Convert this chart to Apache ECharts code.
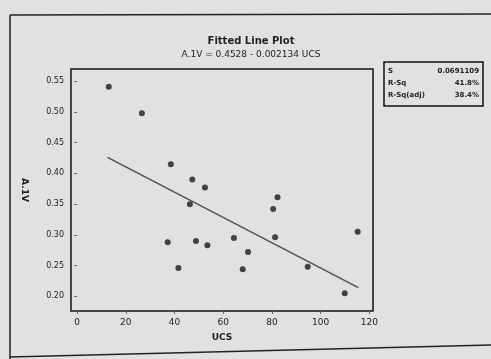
<!DOCTYPE html>
<html>
<head>
<meta charset="utf-8">
<script src="https://cdn.jsdelivr.net/npm/echarts@6/dist/echarts.min.js"></script>
<style>
  html, body { margin: 0; padding: 0; background: #e1e2e0; }
  #chart { width: 491px; height: 359px; }
</style>
</head>
<body>
<div id="chart"></div>
<script>
// measured points (UCS vs A.1V)
var ucs = [13, 26.6, 38.5, 47.3, 52.5, 46.3, 80.5, 82.3, 81.3, 115.2, 64.4, 37.2, 48.8, 53.5, 70.2, 41.6, 68, 94.7, 109.9];
var aiv = [0.541, 0.498, 0.415, 0.390, 0.377, 0.350, 0.342, 0.361, 0.296, 0.305, 0.295, 0.288, 0.290, 0.283, 0.272, 0.246, 0.244, 0.248, 0.205];
// fitted line end points
var fitX = [12.5, 115.5];
var fitY = [0.426, 0.214];
var xTicks = [0, 20, 40, 60, 80, 100, 120];
var yTicks = [0.20, 0.25, 0.30, 0.35, 0.40, 0.45, 0.50, 0.55];
var statNames = ['S', 'R-Sq', 'R-Sq(adj)'];
var statValues = ['0.0691109', '41.8%', '38.4%'];

var chart = echarts.init(document.getElementById('chart'));

var points = ucs.map(function (x, i) { return [x, aiv[i]]; });
var fitLine = fitX.map(function (x, i) { return [x, fitY[i]]; });

var statGraphics = [{
  type: 'rect',
  shape: { x: 384, y: 62, width: 99, height: 44 },
  style: { fill: 'none', stroke: '#111', lineWidth: 1.5 }
}];
statNames.forEach(function (n, i) {
  statGraphics.push({
    type: 'text', x: 388, y: 68 + i * 12,
    style: { text: n, font: 'bold 7px "DejaVu Sans"', fill: '#222' }
  });
  statGraphics.push({
    type: 'text', x: 479, y: 68 + i * 12,
    style: { text: statValues[i], font: 'bold 7px "DejaVu Sans"', fill: '#222', align: 'right' }
  });
});

var option = {
  backgroundColor: '#e1e2e0',
  animation: false,
  title: {
    text: 'Fitted Line Plot',
    subtext: 'A.1V = 0.4528 - 0.002134 UCS',
    left: 246,
    top: 31,
    textAlign: 'center',
    itemGap: 4,
    textStyle: { fontFamily: 'DejaVu Sans', fontSize: 10, fontWeight: 'bold', color: '#222' },
    subtextStyle: { fontFamily: 'DejaVu Sans', fontSize: 9, color: '#222' }
  },
  grid: {
    left: 71, right: 118, top: 69, bottom: 48,
    show: true, borderColor: '#111', borderWidth: 1.5, backgroundColor: 'transparent'
  },
  xAxis: {
    type: 'value',
    min: -2.5, max: 121.5,
    name: 'UCS',
    nameLocation: 'middle',
    nameGap: 22,
    nameTextStyle: { fontFamily: 'DejaVu Sans', fontSize: 9, fontWeight: 'bold', color: '#222' },
    axisLine: { show: false },
    splitLine: { show: false },
    axisTick: { show: true, customValues: xTicks, length: 3, lineStyle: { color: '#666' } },
    axisLabel: {
      customValues: xTicks, margin: 7,
      fontFamily: 'DejaVu Sans', fontSize: 9, color: '#222'
    }
  },
  yAxis: {
    type: 'value',
    min: 0.176, max: 0.57,
    name: 'A.1V',
    nameLocation: 'middle',
    nameGap: 42,
    nameRotate: -90,
    nameTextStyle: { fontFamily: 'DejaVu Sans', fontSize: 9, fontWeight: 'bold', color: '#222' },
    axisLine: { show: false },
    splitLine: { show: false },
    axisTick: { show: true, customValues: yTicks, length: 3, lineStyle: { color: '#666' } },
    axisLabel: {
      customValues: yTicks, margin: 7,
      fontFamily: 'DejaVu Sans', fontSize: 8, color: '#222',
      formatter: function (v) { return v.toFixed(2); }
    }
  },
  series: [
    {
      type: 'line',
      data: fitLine,
      symbol: 'none',
      lineStyle: { color: '#505050', width: 1.5 },
      z: 2
    },
    {
      type: 'scatter',
      data: points,
      symbol: 'circle',
      symbolSize: 6,
      itemStyle: { color: '#1a1a1a' },
      z: 3
    }
  ],
  graphic: [
    { type: 'line', shape: { x1: 10, y1: 15, x2: 491, y2: 14 }, style: { stroke: '#222', lineWidth: 1.5 } },
    { type: 'line', shape: { x1: 10, y1: 15, x2: 10, y2: 359 }, style: { stroke: '#222', lineWidth: 1.5 } },
    { type: 'line', shape: { x1: 10, y1: 357, x2: 491, y2: 345 }, style: { stroke: '#222', lineWidth: 1.5 } }
  ].concat(statGraphics)
};

chart.setOption(option);
</script>
</body>
</html>
